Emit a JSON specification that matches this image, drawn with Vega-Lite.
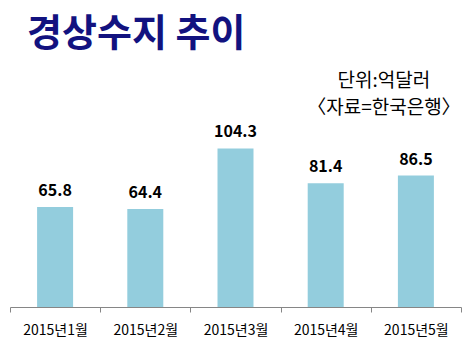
{
  "$schema": "https://vega.github.io/schema/vega-lite/v6.json",
  "width": 451,
  "height": 228,
  "autosize": {"type": "none"},
  "padding": {"left": 10, "top": 79, "right": 11, "bottom": 45},
  "background": "white",
  "title": {
    "text": "경상수지 추이",
    "anchor": "start",
    "frame": "group",
    "dx": 17,
    "offset": 18,
    "font": "Noto Sans CJK KR",
    "fontSize": 38,
    "fontWeight": "bold",
    "color": "#12127f"
  },
  "config": {
    "view": {"stroke": null},
    "font": "Noto Sans CJK KR"
  },
  "datasets": {
    "bars": [
      {"month": "2015년1월", "value": 65.8},
      {"month": "2015년2월", "value": 64.4},
      {"month": "2015년3월", "value": 104.3},
      {"month": "2015년4월", "value": 81.4},
      {"month": "2015년5월", "value": 86.5}
    ],
    "notes": [
      {"month": "2015년5월", "value": 149, "label": "단위:억달러"},
      {"month": "2015년5월", "value": 131, "label": "〈자료=한국은행〉"}
    ]
  },
  "layer": [
    {
      "data": {"name": "bars"},
      "mark": {"type": "bar", "size": 36, "color": "#93CDDD"},
      "encoding": {
        "x": {
          "field": "month",
          "type": "nominal",
          "sort": null,
          "scale": {"paddingInner": 0, "paddingOuter": 0},
          "axis": {
            "title": null,
            "labelAngle": 0,
            "labelFontSize": 14,
            "labelColor": "#000000",
            "labelPadding": 11,
            "domainColor": "#868686",
            "tickColor": "#868686",
            "tickBand": "extent",
            "tickSize": 5
          }
        },
        "y": {
          "field": "value",
          "type": "quantitative",
          "scale": {"domain": [0, 150], "nice": false, "zero": true},
          "axis": null
        }
      }
    },
    {
      "data": {"name": "bars"},
      "mark": {"type": "text", "baseline": "alphabetic", "dy": -11, "fontSize": 16, "fontWeight": "bold", "color": "#000000"},
      "encoding": {
        "x": {"field": "month", "type": "nominal", "sort": null},
        "y": {"field": "value", "type": "quantitative"},
        "text": {"field": "value", "type": "quantitative", "format": ".1f"}
      }
    },
    {
      "data": {"name": "notes"},
      "mark": {"type": "text", "align": "center", "baseline": "middle", "dx": -32, "fontSize": 19, "color": "#000000"},
      "encoding": {
        "x": {"field": "month", "type": "nominal", "sort": null},
        "y": {"field": "value", "type": "quantitative"},
        "text": {"field": "label", "type": "nominal"}
      }
    }
  ]
}
